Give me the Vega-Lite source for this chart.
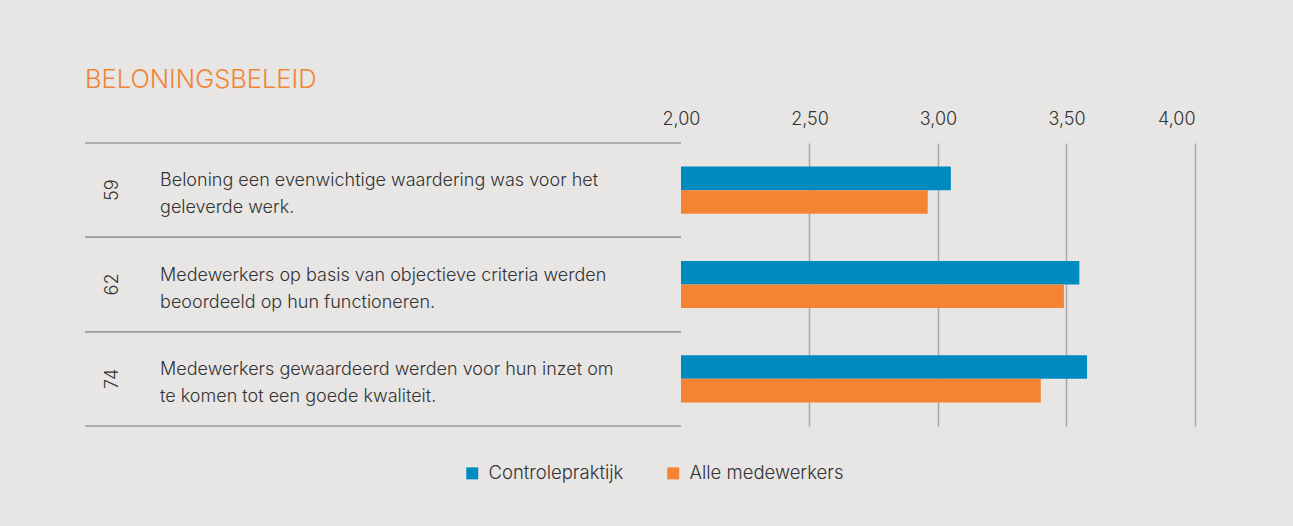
{
  "$schema": "https://vega.github.io/schema/vega-lite/v6.json",
  "background": "#e7e6e5",
  "autosize": {"type": "none"},
  "padding": {"left": 85, "top": 143, "right": 98, "bottom": 100},
  "width": 1110,
  "height": 283,
  "title": {"text": "BELONINGSBELEID", "anchor": "start", "frame": "group", "color": "#f08536", "font": "Inter", "fontSize": 25.5, "fontWeight": 300, "offset": 17},
  "config": {"view": {"stroke": null}, "font": "Inter"},
  "datasets": {
    "items": [
      {"nr": "59", "tekst": "Beloning een evenwichtige waardering was voor het\ngeleverde werk."},
      {"nr": "62", "tekst": "Medewerkers op basis van objectieve criteria werden\nbeoordeeld op hun functioneren."},
      {"nr": "74", "tekst": "Medewerkers gewaardeerd werden voor hun inzet om\nte komen tot een goede kwaliteit."}
    ],
    "scores": [
      {"nr": "59", "reeks": "Controlepraktijk", "score": 3.05},
      {"nr": "59", "reeks": "Alle medewerkers", "score": 2.96},
      {"nr": "62", "reeks": "Controlepraktijk", "score": 3.55},
      {"nr": "62", "reeks": "Alle medewerkers", "score": 3.49},
      {"nr": "74", "reeks": "Controlepraktijk", "score": 3.58},
      {"nr": "74", "reeks": "Alle medewerkers", "score": 3.40}
    ]
  },
  "encoding": {
    "y": {"field": "nr", "type": "nominal", "axis": null, "scale": {"domain": ["59", "62", "74"], "paddingInner": 0, "paddingOuter": 0}}
  },
  "layer": [
    {
      "data": {"name": "scores"},
      "mark": {"type": "bar", "cornerRadius": 0},
      "encoding": {
        "x": {"field": "score", "type": "quantitative", "scale": {"domain": [-0.319, 4], "nice": false, "zero": false},
          "axis": {"orient": "top", "values": [2, 2.5, 3, 3.5, 4], "labelExpr": "replace(format(datum.value, '.2f'), '.', ',')", "title": null, "domain": false, "ticks": false, "tickSize": 0, "labelPadding": 15, "labelFont": "Inter", "labelFontWeight": 300, "labelFontSize": 18, "labelColor": "#333333", "grid": true, "gridColor": "#a8a8a8", "gridWidth": 1.5, "gridOpacity": {"condition": {"test": "datum.value === 2", "value": 0}, "value": 1}}},
        "x2": {"datum": 2},
        "yOffset": {"field": "reeks", "type": "nominal", "sort": ["Controlepraktijk", "Alle medewerkers"], "scale": {"paddingInner": 0, "paddingOuter": 1.3}},
        "color": {"field": "reeks", "type": "nominal", "sort": ["Controlepraktijk", "Alle medewerkers"],
          "scale": {"domain": ["Controlepraktijk", "Alle medewerkers"], "range": ["#008bc0", "#f48333"]},
          "legend": {"title": null, "orient": "none", "legendX": 378, "legendY": 321, "direction": "horizontal", "symbolType": "square", "symbolSize": 144, "symbolStrokeWidth": 0, "labelFont": "Inter", "labelFontWeight": 300, "labelFontSize": 18.5, "labelColor": "#333333", "labelOffset": 7, "columnPadding": 40}}
      }
    },
    {
      "data": {"name": "items"},
      "mark": {"type": "rule", "color": "#9a9a9a", "strokeWidth": 1.5},
      "encoding": {
        "x": {"datum": -0.319, "type": "quantitative"},
        "x2": {"datum": 2},
        "y": {"field": "nr", "type": "nominal", "bandPosition": 0}
      }
    },
    {
      "data": {"name": "items"},
      "mark": {"type": "rule", "color": "#9a9a9a", "strokeWidth": 1.5},
      "encoding": {
        "x": {"datum": -0.319, "type": "quantitative"},
        "x2": {"datum": 2},
        "y": {"field": "nr", "type": "nominal", "bandPosition": 1}
      }
    },
    {
      "data": {"name": "items"},
      "mark": {"type": "text", "align": "left", "baseline": "middle", "lineBreak": "\n", "lineHeight": 27, "dy": -9, "font": "Inter", "fontWeight": 300, "fontSize": 18, "color": "#333333"},
      "encoding": {
        "x": {"datum": -0.027, "type": "quantitative"},
        "text": {"field": "tekst"}
      }
    },
    {
      "data": {"name": "items"},
      "mark": {"type": "text", "align": "center", "baseline": "middle", "angle": 270, "font": "Inter", "fontWeight": 300, "fontSize": 18, "color": "#333333"},
      "encoding": {
        "x": {"datum": -0.21, "type": "quantitative"},
        "text": {"field": "nr"}
      }
    }
  ]
}
